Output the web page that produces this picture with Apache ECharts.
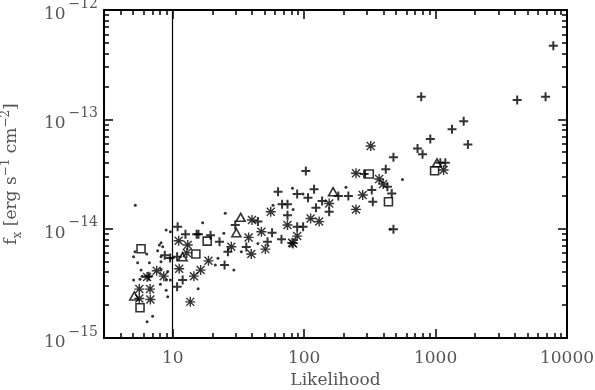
<!doctype html>
<html>
<head>
<meta charset="UTF-8">
<title>fx vs likelihood</title>
<script src="https://cdn.jsdelivr.net/npm/echarts@6/dist/echarts.min.js"></script>
<style>
  html, body { margin: 0; padding: 0; background: #fff; }
  #chart { width: 595px; height: 390px; }
</style>
</head>
<body>
<div id="chart"></div>
<script>
// [likelihood, f_x (erg s^-1 cm^-2)]
var plusPts = [
  [10.9, 1.04e-14], [12.5, 8.9e-15], [15.2, 8.9e-15], [8.7, 5.7e-15], [9.55, 5.4e-15],
  [10.8, 5.53e-15], [11.9, 3.4e-15], [10.8, 2.94e-15], [6.56, 3.68e-15], [63.3, 2.18e-14],
  [67.9, 1.67e-14], [74.7, 1.67e-14], [74.7, 1.33e-14], [29.9, 1.08e-14], [15.7, 8.9e-15],
  [19.4, 8.7e-15], [22.7, 7.6e-15], [36.3, 6.8e-15], [26.3, 6.15e-15], [24.8, 4.65e-15],
  [52.6, 7.6e-15], [57.0, 9.2e-15], [67.2, 8.0e-15], [44.5, 1.16e-14], [103, 3.36e-14],
  [88.5, 2.07e-14], [119, 2.29e-14], [107, 1.92e-14], [182, 1.99e-14], [217, 1.99e-14],
  [327, 2.26e-14], [333, 1.76e-14], [137, 1.79e-14], [123, 1.55e-14], [155, 1.43e-14],
  [88.5, 1.04e-14], [98.2, 1.04e-14], [286, 3.16e-14], [418, 3.49e-14], [430, 2.42e-14],
  [464, 2.1e-14], [478, 4.5e-14], [478, 9.9e-15], [729, 5.4e-14], [778, 1.61e-13],
  [796, 4.8e-14], [912, 6.6e-14], [1087, 4.0e-14], [1186, 4.0e-14], [1334, 8.1e-14],
  [1636, 9.6e-14], [1762, 5.9e-14], [4178, 1.5e-13], [6870, 1.61e-13], [7870, 4.71e-13]
];
var starPts = [
  [11.1, 7.75e-15], [13.0, 7.08e-15], [12.8, 6.0e-15], [11.2, 4.3e-15], [14.5, 3.68e-15],
  [7.55, 4.12e-15], [8.54, 3.68e-15], [6.38, 3.61e-15], [5.57, 2.8e-15], [6.72, 2.8e-15],
  [5.57, 2.3e-15], [6.76, 2.25e-15], [13.6, 2.14e-15], [55.7, 1.43e-14], [40.1, 1.2e-14],
  [47.3, 9.37e-15], [37.8, 8.32e-15], [50.7, 6.5e-15], [39.6, 5.86e-15], [27.9, 6.83e-15],
  [18.7, 5.08e-15], [16.3, 4.18e-15], [74.7, 1.08e-14], [81.0, 7.43e-15], [321, 5.7e-14],
  [248, 3.21e-14], [372, 2.85e-14], [399, 2.56e-14], [279, 2.03e-14], [248, 1.5e-14],
  [155, 1.7e-14], [130, 1.16e-14], [112, 1.24e-14], [88.5, 8.55e-15], [82.4, 7.33e-15],
  [1151, 3.44e-14]
];
var squarePts = [
  [5.74, 6.55e-15], [5.64, 1.89e-15], [15.0, 5.86e-15], [18.3, 7.7e-15],
  [313, 3.16e-14], [438, 1.76e-14], [983, 3.39e-14]
];
var trianglePts = [
  [5.1, 2.42e-15], [11.9, 5.53e-15], [32.9, 1.27e-14], [30.5, 9.17e-15],
  [166, 2.18e-14], [1025, 4.0e-14]
];
var dotPts = [
  [5.19, 1.64e-14], [8.91, 9.7e-15], [9.6, 9.37e-15], [8.15, 7.43e-15], [7.91, 7.08e-15],
  [8.39, 6.83e-15], [7.68, 6.28e-15], [5.16, 6.15e-15], [5.04, 5.53e-15], [6.34, 5.86e-15],
  [5.41, 4.88e-15], [6.64, 4.88e-15], [8.15, 4.98e-15], [5.74, 4.18e-15], [8.15, 4.25e-15],
  [5.04, 3.39e-15], [5.64, 3.44e-15], [8.91, 3.39e-15], [9.6, 3.39e-15], [8.91, 2.74e-15],
  [9.16, 2.38e-15], [7.03, 1.58e-15], [6.38, 1.41e-15], [15.6, 2.82e-15], [25.1, 1.38e-14],
  [16.9, 1.13e-14], [24.5, 9.06e-15], [33.3, 6.15e-15], [22.1, 5.35e-15], [29.2, 4.18e-15],
  [58.0, 1.64e-14], [44.5, 7.33e-15], [21.1, 4.65e-15], [208, 2.39e-14], [82.4, 1.5e-14],
  [81.5, 2.34e-14], [451, 9.86e-15], [560, 2.82e-14], [8.15, 5.53e-15], [9.6, 5.35e-15],
  [5.85, 3.68e-15], [9.16, 4.05e-15], [8.06, 3.1e-15], [98, 2.07e-14]
];
var cutLikelihood = 10;

var xMajor = [10, 100, 1000, 10000];
var xMinor = [3, 4, 5, 6, 7, 8, 9, 20, 30, 40, 50, 60, 70, 80, 90,
  200, 300, 400, 500, 600, 700, 800, 900, 2000, 3000, 4000, 5000, 6000, 7000, 8000, 9000];
var yMajor = [1e-15, 1e-14, 1e-13, 1e-12];
var yMinor = [2e-15, 3e-15, 4e-15, 5e-15, 6e-15, 7e-15, 8e-15, 9e-15,
  2e-14, 3e-14, 4e-14, 5e-14, 6e-14, 7e-14, 8e-14, 9e-14,
  2e-13, 3e-13, 4e-13, 5e-13, 6e-13, 7e-13, 8e-13, 9e-13];

var FONT = 'DejaVu Serif';
var LABEL_COLOR = '#555';

// one axis = line + ticks (major or minor) on a given side
function xAx(pos, ticks, len, withLine) {
  return {
    type: 'log', position: pos, min: 3, max: 10000,
    axisLine: { show: withLine, onZero: false, lineStyle: { color: '#000', width: 2 } },
    axisTick: { inside: true, length: len, customValues: ticks, lineStyle: { color: '#000', width: 1.5 } },
    axisLabel: { show: false },
    splitLine: { show: false }
  };
}
function yAx(pos, ticks, len, withLine) {
  return {
    type: 'log', position: pos, min: 1e-15, max: 1e-12,
    axisLine: { show: withLine, onZero: false, lineStyle: { color: '#000', width: 2 } },
    axisTick: { inside: true, length: len, customValues: ticks, lineStyle: { color: '#000', width: 1.5 } },
    axisLabel: { show: false },
    splitLine: { show: false }
  };
}

var xBottom = xAx('bottom', xMajor, 9, true);
xBottom.axisLabel = {
  show: true, customValues: xMajor, margin: 12,
  fontFamily: FONT, fontSize: 17, color: LABEL_COLOR,
  formatter: function (v) { return String(Math.round(v)); }
};
xBottom.name = 'Likelihood';
xBottom.nameLocation = 'middle';
xBottom.nameGap = 34;
xBottom.nameTextStyle = { fontFamily: FONT, fontSize: 17, color: LABEL_COLOR };

var yLeft = yAx('left', yMajor, 9, true);
yLeft.axisLabel = {
  show: true, customValues: yMajor, margin: 6,
  fontFamily: FONT, color: LABEL_COLOR,
  formatter: function (v) {
    var e = Math.round(Math.log10(v));
    return '{b|10}{s|\u2009\u2212' + (-e) + '}';
  },
  rich: {
    b: { fontFamily: FONT, fontSize: 17, color: LABEL_COLOR, lineHeight: 26, verticalAlign: 'bottom' },
    s: { fontFamily: FONT, fontSize: 14, color: LABEL_COLOR, lineHeight: 14, verticalAlign: 'top' }
  }
};
yLeft.name = 'f{sub|x} [erg s{sup|\u22121} cm{sup|\u22122}]';
yLeft.nameLocation = 'middle';
yLeft.nameRotate = 90;
yLeft.nameGap = 80;
yLeft.nameTextStyle = {
  fontFamily: FONT, fontSize: 17, color: LABEL_COLOR, lineHeight: 24,
  rich: {
    sub: { fontFamily: FONT, fontSize: 12, color: LABEL_COLOR, lineHeight: 12, verticalAlign: 'bottom' },
    sup: { fontFamily: FONT, fontSize: 12, color: LABEL_COLOR, lineHeight: 12, verticalAlign: 'top' }
  }
};

var strokeStyle = { color: 'rgba(0,0,0,0)', borderColor: '#000', borderWidth: 1.6 };

var option = {
  backgroundColor: '#fff',
  animation: false,
  grid: { left: 104, right: 28, top: 10, bottom: 52, outerBoundsMode: 'none', containLabel: false },
  xAxis: [
    xBottom,
    xAx('bottom', xMinor, 5, false),
    xAx('top', xMajor, 9, true),
    xAx('top', xMinor, 5, false)
  ],
  yAxis: [
    yLeft,
    yAx('left', yMinor, 5, false),
    yAx('right', yMajor, 9, true),
    yAx('right', yMinor, 5, false)
  ],
  series: [
    {
      name: 'dots', type: 'scatter', data: dotPts,
      symbol: 'circle', symbolSize: 3,
      itemStyle: { color: '#000' },
      markLine: {
        silent: true, symbol: 'none',
        label: { show: false },
        lineStyle: { color: '#000', width: 1.2, type: 'solid' },
        data: [{ xAxis: cutLikelihood }]
      }
    },
    {
      name: 'plus', type: 'scatter', data: plusPts,
      symbol: 'path://M0,5H10M5,0V10', symbolSize: 9,
      itemStyle: { color: 'rgba(0,0,0,0)', borderColor: '#000', borderWidth: 2 }
    },
    {
      name: 'asterisk', type: 'scatter', data: starPts,
      symbol: 'path://M5,0V10M0,5H10M1,1L9,9M9,1L1,9', symbolSize: 10,
      itemStyle: { color: 'rgba(0,0,0,0)', borderColor: '#000', borderWidth: 1.4 }
    },
    {
      name: 'square', type: 'scatter', data: squarePts,
      symbol: 'rect', symbolSize: 8,
      itemStyle: strokeStyle
    },
    {
      name: 'triangle', type: 'scatter', data: trianglePts,
      symbol: 'triangle', symbolSize: [9, 8],
      itemStyle: strokeStyle
    }
  ]
};

var chart = echarts.init(document.getElementById('chart'));
chart.setOption(option);
</script>
</body>
</html>
